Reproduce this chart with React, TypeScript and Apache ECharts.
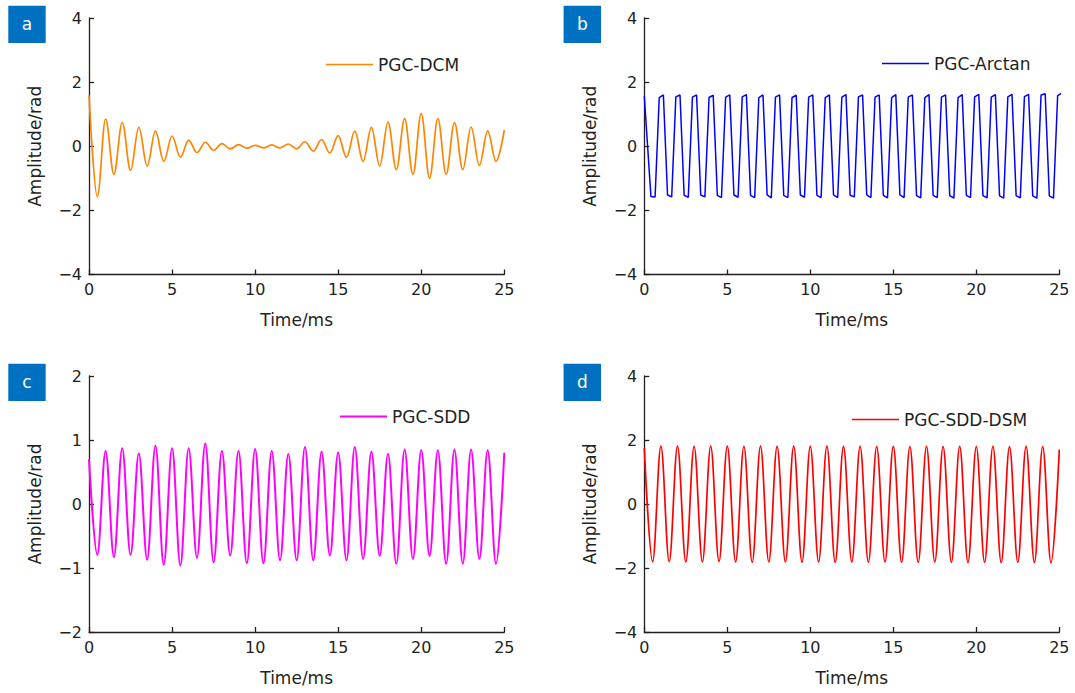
import React, { useEffect, useRef } from "react";
import * as echarts from "echarts";

// Sample times (ms). Panels a, c, d: one peak/trough every half period.
const extremaTimes: number[] = Array.from({ length: 51 }, (_, i) => i * 0.5);
// Panel b: sampled (piecewise linear) arctan output, 4 vertices per period
const arctanTimes: number[] = [0, ...Array.from({ length: 100 }, (_, i) => 0.4 + i * 0.25)];

// a) PGC-DCM: peak/trough values (rad)
const dcmValues = [
  1.59, -1.58, 0.85, -0.875, 0.74, -0.75, 0.59, -0.62, 0.47, -0.47,
  0.32, -0.34, 0.19, -0.2, 0.125, -0.125, 0.08, -0.08, 0.05, -0.06,
  0.03, -0.05, 0.04, -0.05, 0.07, -0.08, 0.14, -0.15, 0.21, -0.21,
  0.33, -0.35, 0.47, -0.47, 0.59, -0.62, 0.75, -0.73, 0.86, -0.875,
  1.02, -1.0, 0.86, -0.875, 0.74, -0.73, 0.6, -0.6, 0.48, -0.47,
  0.5,
];

// b) PGC-Arctan: vertex values (rad)
const arctanValues = [
  1.56,
  -1.57, -1.58, 1.52, 1.6,
  -1.52, -1.58, 1.54, 1.6,
  -1.53, -1.59, 1.53, 1.6,
  -1.52, -1.58, 1.52, 1.59,
  -1.53, -1.6, 1.53, 1.6,
  -1.52, -1.59, 1.54, 1.61,
  -1.53, -1.6, 1.52, 1.6,
  -1.52, -1.61, 1.53, 1.6,
  -1.53, -1.6, 1.52, 1.59,
  -1.52, -1.59, 1.53, 1.6,
  -1.53, -1.6, 1.52, 1.6,
  -1.52, -1.6, 1.53, 1.61,
  -1.53, -1.58, 1.54, 1.6,
  -1.52, -1.6, 1.53, 1.6,
  -1.53, -1.61, 1.52, 1.61,
  -1.52, -1.6, 1.53, 1.6,
  -1.54, -1.61, 1.52, 1.61,
  -1.53, -1.6, 1.53, 1.6,
  -1.54, -1.62, 1.52, 1.61,
  -1.53, -1.6, 1.54, 1.62,
  -1.54, -1.61, 1.53, 1.61,
  -1.55, -1.62, 1.54, 1.62,
  -1.54, -1.61, 1.55, 1.62,
  -1.55, -1.62, 1.6, 1.64,
  -1.55, -1.62, 1.58, 1.66,
];

// c) PGC-SDD: peak/trough values (rad)
const sddValues = [
  0.7, -0.795, 0.83, -0.83, 0.87, -0.795, 0.79, -0.87, 0.91, -0.95,
  0.87, -0.96, 0.87, -0.84, 0.945, -0.91, 0.83, -0.805, 0.83, -0.925,
  0.86, -0.925, 0.83, -0.88, 0.78, -0.88, 0.89, -0.88, 0.815, -0.805,
  0.805, -0.88, 0.89, -0.857, 0.815, -0.81, 0.78, -0.935, 0.85, -0.857,
  0.84, -0.81, 0.84, -0.935, 0.85, -0.935, 0.85, -0.857, 0.84, -0.935,
  0.8,
];

// d) PGC-SDD-DSM: peak/trough values (rad)
const dsmValues = [
  1.75, -1.81, 1.81, -1.8, 1.81, -1.81, 1.8, -1.81, 1.81, -1.8,
  1.81, -1.81, 1.8, -1.82, 1.81, -1.81, 1.8, -1.81, 1.81, -1.82,
  1.8, -1.81, 1.81, -1.82, 1.8, -1.81, 1.8, -1.82, 1.79, -1.81,
  1.8, -1.82, 1.79, -1.82, 1.8, -1.81, 1.79, -1.82, 1.8, -1.83,
  1.79, -1.82, 1.8, -1.83, 1.79, -1.82, 1.8, -1.83, 1.79, -1.84,
  1.7,
];

const panelLetters = ["a", "b", "c", "d"];
const seriesNames = ["PGC-DCM", "PGC-Arctan", "PGC-SDD", "PGC-SDD-DSM"];
const seriesColors = ["#FF8400", "#0000FF", "#FF00FF", "#FF0000"];
const xRange = { min: 0, max: 25, interval: 5 };
const yRanges = [
  { min: -4, max: 4, interval: 2 },
  { min: -4, max: 4, interval: 2 },
  { min: -2, max: 2, interval: 1 },
  { min: -4, max: 4, interval: 2 },
];
const xName = "Time/ms";
const yName = "Amplitude/rad";

const FONT = "DejaVu Sans";
const INK = "#231F20";

const grids = [
  { left: 89, top: 18, width: 415.3, height: 256.5 },
  { left: 644.3, top: 18, width: 415, height: 256.5 },
  { left: 89, top: 376, width: 415.3, height: 256 },
  { left: 644.3, top: 376, width: 415, height: 256 },
];
const legendPos = [
  { left: 326, top: 56 },
  { left: 882, top: 55 },
  { left: 340, top: 408 },
  { left: 852, top: 411 },
];
const lineWidths = [1.7, 1.5, 2, 1.7];

const fmt = (v: number) => (v < 0 ? "\u2212" + Math.abs(v) : String(v));

export default function App() {
  const ref = useRef<HTMLDivElement>(null);
  useEffect(() => {
    if (!ref.current) return;
    const chart = echarts.init(ref.current, undefined, { renderer: "svg" });
    const pairs = (ts: number[], vs: number[]) => vs.map((v, i) => [ts[i], v]);
    const seriesData = [
      pairs(extremaTimes, dcmValues),
      pairs(arctanTimes, arctanValues),
      pairs(extremaTimes, sddValues),
      pairs(extremaTimes, dsmValues),
    ];
    const axisLine = { onZero: false, lineStyle: { color: INK, width: 1.3 } };
    const axisTick = { inside: true, length: 5, lineStyle: { color: INK, width: 1.3 } };
    const axisLabel = { color: INK, fontSize: 16, fontFamily: FONT, margin: 7, formatter: fmt };

    const option: any = {
      animation: false,
      grid: grids.map((g) => ({ ...g, containLabel: false })),
      xAxis: grids.map((_, i) => ({
        type: "value",
        gridIndex: i,
        ...xRange,
        axisLine,
        axisTick,
        axisLabel,
        splitLine: { show: false },
        name: xName,
        nameLocation: "middle",
        nameGap: 37,
        nameTextStyle: { color: INK, fontSize: 17, fontFamily: FONT },
      })),
      yAxis: grids.map((_, i) => ({
        type: "value",
        gridIndex: i,
        ...yRanges[i],
        axisLine,
        axisTick,
        axisLabel,
        splitLine: { show: false },
        name: yName,
        nameLocation: "middle",
        nameGap: 46,
        nameTextStyle: { color: INK, fontSize: 17, fontFamily: FONT },
      })),
      legend: seriesNames.map((n, i) => ({
        data: [{ name: n, icon: "rect" }],
        ...legendPos[i],
        padding: 0,
        itemWidth: 47,
        itemHeight: lineWidths[i],
        selectedMode: false,
        textStyle: { color: INK, fontSize: 17, fontFamily: FONT },
      })),
      series: seriesNames.map((n, i) => ({
        name: n,
        type: "line",
        xAxisIndex: i,
        yAxisIndex: i,
        data: seriesData[i],
        symbol: "none",
        smooth: i === 1 ? false : 0.363,
        smoothMonotone: "x",
        clip: true,
        lineStyle: { color: seriesColors[i], width: lineWidths[i] },
        itemStyle: { color: seriesColors[i] },
      })),
      graphic: grids.map((g, i) => ({
        type: "group",
        x: g.left - 80.7,
        y: g.top - 12.3,
        children: [
          { type: "rect", shape: { x: 0, y: 0, width: 37.4, height: 37.4 }, style: { fill: "#0070C0" } },
          {
            type: "text",
            x: 18.7,
            y: 18.2,
            style: {
              text: panelLetters[i],
              fill: "#FFFFFF",
              fontSize: 17,
              fontFamily: FONT,
              align: "center",
              verticalAlign: "middle",
            },
          },
        ],
      })),
    };
    chart.setOption(option);
    return () => chart.dispose();
  }, []);
  return (
    <div
      ref={ref}
      style={{ position: "absolute", left: 0, top: 0, width: 1075, height: 693, background: "#fff" }}
    />
  );
}
